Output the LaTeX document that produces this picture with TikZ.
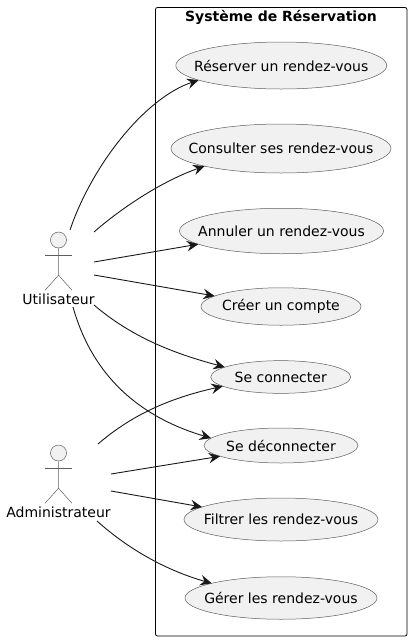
\documentclass[tikz,border=0pt]{standalone}
\usepackage{fontspec}
\setmainfont{DejaVu Sans}
\usetikzlibrary{shapes.geometric, arrows.meta, positioning}
\definecolor{umlfill}{HTML}{F1F1F1}
\definecolor{umlline}{HTML}{181818}

\begin{document}
\begin{tikzpicture}[
    x=1pt, y=-1pt,
    every node/.style={font=\fontsize{14}{16}\selectfont, text=black},
    usecase/.style={draw=umlline!70, fill=umlfill, ellipse, line width=0.5pt, inner sep=-30pt, outer sep=0pt},
    head/.style={draw=umlline!70, fill=umlfill, circle, line width=0.5pt, minimum size=16pt, inner sep=0pt},
    limb/.style={draw=umlline!70, line width=0.5pt},
    arrow/.style={draw=umlline, line width=0.9pt, -{Stealth[length=11.5pt, width=10.5pt, inset=4pt]}}
]
\useasboundingbox (0,0) rectangle (412,641);

% system frame
\node (frame) [draw=black, rounded corners=2pt, line width=0.8pt, minimum width=251.5pt, minimum height=628.5pt, inner sep=0pt] at (281.25,321.75) {};
\node (title) at (281,17) {\bfseries Système de Réservation};

% use cases
\node (reserver) [usecase, minimum width=211pt, minimum height=47pt] at (281.3,65.5) {Réserver un rendez-vous};
\node (consulter) [usecase, minimum width=220pt, minimum height=49pt] at (281,148.5) {Consulter ses rendez-vous};
\node (annuler) [usecase, minimum width=204pt, minimum height=45.5pt] at (281.5,231) {Annuler un rendez-vous};
\node (creer) [usecase, minimum width=160pt, minimum height=37.5pt] at (281,306.5) {Créer un compte};
\node (connecter) [usecase, minimum width=140pt, minimum height=32.7pt] at (280.7,377) {Se connecter};
\node (deconnecter) [usecase, minimum width=154pt, minimum height=35pt] at (281,445.5) {Se déconnecter};
\node (filtrer) [usecase, minimum width=194pt, minimum height=43pt] at (281,519.5) {Filtrer les rendez-vous};
\node (gerer) [usecase, minimum width=192pt, minimum height=42.5pt] at (281,598) {Gérer les rendez-vous};

% actors
\foreach \name/\txt/\ytop in {utilisateur/Utilisateur/240, administrateur/Administrateur/453} {
    \node (\name head) [head] at (58.5,\ytop) {};
    \node (\name) at (58.5,\ytop+59.5) {\txt};
    \draw [limb] (\name head.south) -- ++(0,27) -- ++(-13.5,15);
    \draw [limb] (\name head.south) ++(0,27) -- ++(13.5,15);
    \draw [limb] (45,\ytop+15.5) -- (72,\ytop+15.5);
}

\coordinate (u1) at (70,230);
\coordinate (u2) at (94,232);
\coordinate (u3) at (94,262);
\coordinate (u4) at (94,275);
\coordinate (u5) at (94,305);
\coordinate (u6) at (73,307);
\coordinate (a1) at (98,444);
\coordinate (a2) at (111,474);
\coordinate (a3) at (111,491);
\coordinate (a4) at (97,521);

\draw [arrow] (u1) .. controls (92,165) and (145,98) .. (reserver.190);
\draw [arrow] (u2) .. controls (125,205) and (165,180) .. (consulter.193.7);
\draw [arrow] (u3) -- (annuler.189);
\draw [arrow] (u4) -- (creer.171);
\draw [arrow] (u5) .. controls (135,340) and (180,355) .. (connecter.170);
\draw [arrow] (u6) .. controls (95,385) and (150,420) .. (deconnecter.174);
\draw [arrow] (a1) .. controls (135,412) and (175,397) .. (connecter.189);
\draw [arrow] (a2) -- (deconnecter.190);
\draw [arrow] (a3) -- (filtrer.171.5);
\draw [arrow] (a4) .. controls (135,555) and (175,573) .. (gerer.168);

\end{tikzpicture}
\end{document}
